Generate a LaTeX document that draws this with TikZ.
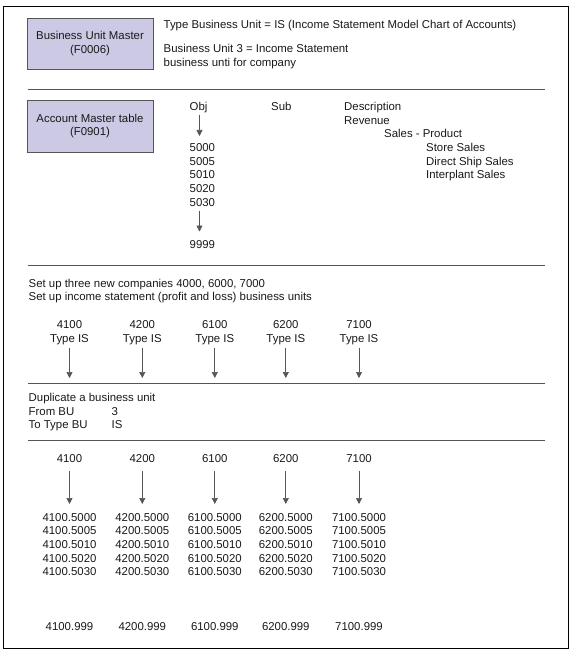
\documentclass[tikz,border=0pt]{standalone}
\usepackage{fontspec}
\setmainfont{Liberation Sans}
\usetikzlibrary{arrows.meta}
\definecolor{boxfill}{RGB}{204,201,228}
\definecolor{linegray}{RGB}{85,85,85}
\definecolor{txt}{RGB}{25,25,25}
\begin{document}
\begin{tikzpicture}[x=1pt,y=-1pt,
  every node/.style={inner sep=0pt, text=txt, font=\fontsize{11.4}{13.7}\selectfont},
  lbl/.style={anchor=base west},
  ctr/.style={anchor=base},
  masterbox/.style={draw=linegray, fill=boxfill, line width=0.8pt, minimum width=126pt, align=center},
  divider/.style={draw=linegray, line width=0.8pt},
  arr/.style={draw=linegray, line width=0.7pt, -{Triangle[width=6pt,length=6pt]}}]
\useasboundingbox (0,0) rectangle (573,652);
\draw[black, line width=0.8pt] (3.5,6.5) rectangle (568.5,648.5);

% Section 1
\node[masterbox, minimum height=51pt] (bum) at (90,43.5) {Business Unit Master\\(F0006)};
\node[lbl] (t1) at (163.5,28.5) {Type Business Unit = IS (Income Statement Model Chart of Accounts)};
\node[lbl] (t2) at (163.5,53) {Business Unit 3 = Income Statement};
\node[lbl] (t3) at (163.5,67) {business unti for company};
\draw[divider] (28,89) -- (545,89);

% Section 2
\node[masterbox, minimum height=52pt] (amt) at (90,126) {Account Master table\\(F0901)};
\node[lbl] (obj) at (189.5,111) {Obj};
\node[lbl] (sub) at (271,111) {Sub};
\node[lbl] (desc) at (344,111) {Description};
\node[lbl] (rev) at (344,124.5) {Revenue};
\node[lbl] (sp) at (384,138) {Sales - Product};
\node[lbl] (ss) at (426,152) {Store Sales};
\node[lbl] (ds) at (426,165.5) {Direct Ship Sales};
\node[lbl] (ips) at (426,179) {Interplant Sales};
\node[lbl] (n5000) at (189.5,152) {5000};
\node[lbl] (n5005) at (189.5,165.5) {5005};
\node[lbl] (n5010) at (189.5,179) {5010};
\node[lbl] (n5020) at (189.5,193) {5020};
\node[lbl] (n5030) at (189.5,207) {5030};
\node[lbl] (n9999) at (189.5,248) {9999};
\coordinate (oa1) at (199.5,115);
\coordinate (oa2) at (199.5,136);
\coordinate (ob1) at (199.5,211);
\coordinate (ob2) at (199.5,231.5);
\draw[arr] (oa1) -- (oa2);
\draw[arr] (ob1) -- (ob2);
\draw[divider] (28,265) -- (545,265);

% Section 3
\node[lbl] (s1) at (28.5,287) {Set up three new companies 4000, 6000, 7000};
\node[lbl] (s2) at (28.5,300.5) {Set up income statement (profit and loss) business units};
\foreach \n/\cx in {4100/69.5, 4200/142.3, 6100/214.8, 6200/285.8, 7100/359} {
  \node[ctr] (u\n) at (\cx,328.3) {\n};
  \node[ctr] (ty\n) at (\cx,342.3) {Type IS};
  \coordinate (ua\n) at (\cx,348);
  \coordinate (ub\n) at (\cx,378);
  \draw[arr] (ua\n) -- (ub\n);
}
\draw[divider] (28,383) -- (545,383);

% Section 4
\node[lbl] (d1) at (28.5,401.7) {Duplicate a business unit};
\node[lbl] (d2) at (28.5,415) {From BU};
\node[lbl] (d2v) at (111.5,415) {3};
\node[lbl] (d3) at (28.5,428.5) {To Type BU};
\node[lbl] (d3v) at (111.5,428.5) {IS};
\draw[divider] (28,440.5) -- (545,440.5);

% Section 5
\foreach \n/\cx in {4100/69.5, 4200/142.3, 6100/214.8, 6200/285.8, 7100/359} {
  \node[ctr] (h\n) at (\cx,462.3) {\n};
  \coordinate (ha\n) at (\cx,471);
  \coordinate (hb\n) at (\cx,504);
  \draw[arr] (ha\n) -- (hb\n);
  \node[ctr] (r\n a) at (\cx,521) {\n.5000};
  \node[ctr] (r\n b) at (\cx,534.7) {\n.5005};
  \node[ctr] (r\n c) at (\cx,548.4) {\n.5010};
  \node[ctr] (r\n d) at (\cx,562.1) {\n.5020};
  \node[ctr] (r\n e) at (\cx,575.8) {\n.5030};
  \node[ctr] (r\n z) at (\cx,630.7) {\n.999};
}
\end{tikzpicture}
\end{document}
